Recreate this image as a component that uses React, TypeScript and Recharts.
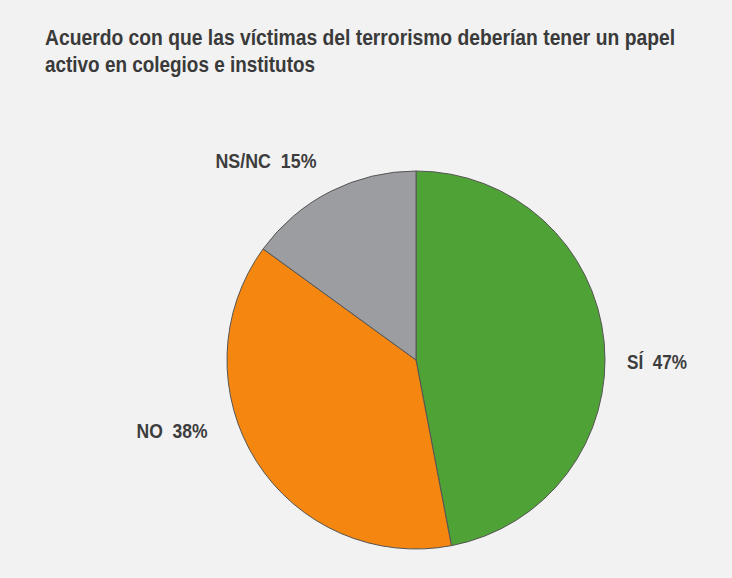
import { Cell, Pie, PieChart } from "recharts";

const categories = ["SÍ", "NO", "NS/NC"];
const percentages = [47, 38, 15];
const sliceColors = ["#4fa236", "#f5860f", "#9c9da1"];

const title = [
  "Acuerdo con que las víctimas del terrorismo deberían tener un papel",
  "activo en colegios e institutos",
];
// rendered widths of the title lines, the source font is a condensed bold
const titleWidths = [630, 270];

// label baseline anchor (offset from pie centre) and text width
const labelLayout: Record<string, { dx: number; dy: number; w: number }> = {
  "SÍ": { dx: 241, dy: 9, w: 60 },
  NO: { dx: -244, dy: 78, w: 71 },
  "NS/NC": { dx: -150, dy: -192, w: 101 },
};

const FONT = '"Liberation Sans", Arial, sans-serif';

const data = categories.map((name, i) => ({ name, value: percentages[i] }));

function renderLabel(props: any) {
  const { cx, cy, name, value } = props;
  const l = labelLayout[name] ?? { dx: 0, dy: 0, w: 60 };
  return (
    <text
      x={cx + l.dx}
      y={cy + l.dy}
      textAnchor="middle"
      fill="#3d3d3d"
      fontFamily={FONT}
      fontWeight="bold"
      fontSize={20}
      textLength={l.w}
      lengthAdjust="spacingAndGlyphs"
      style={{ whiteSpace: "pre" }}
    >
      {`${name}  ${value}%`}
    </text>
  );
}

export default function App() {
  return (
    <div style={{ position: "relative", width: 732, height: 578, background: "#f2f2f2", overflow: "hidden" }}>
      <style>{"body{margin:0}"}</style>
      <svg width={732} height={90} style={{ position: "absolute", left: 0, top: 0 }}>
        {title.map((line, i) => (
          <text
            key={line}
            x={45}
            y={45 + i * 27}
            fill="#3a3a3a"
            fontFamily={FONT}
            fontWeight="bold"
            fontSize={22}
            textLength={titleWidths[i]}
            lengthAdjust="spacingAndGlyphs"
          >
            {line}
          </text>
        ))}
      </svg>
      <div style={{ position: "absolute", left: 0, top: 90 }}>
        <PieChart width={732} height={488} margin={{ top: 0, right: 0, bottom: 0, left: 0 }}>
          <Pie
            data={data}
            dataKey="value"
            nameKey="name"
            cx={416}
            cy={270}
            outerRadius={189}
            startAngle={90}
            endAngle={-270}
            stroke="#555555"
            strokeWidth={1}
            label={renderLabel}
            labelLine={false}
            isAnimationActive={false}
          >
            {data.map((d, i) => (
              <Cell key={d.name} fill={sliceColors[i]} />
            ))}
          </Pie>
        </PieChart>
      </div>
    </div>
  );
}
